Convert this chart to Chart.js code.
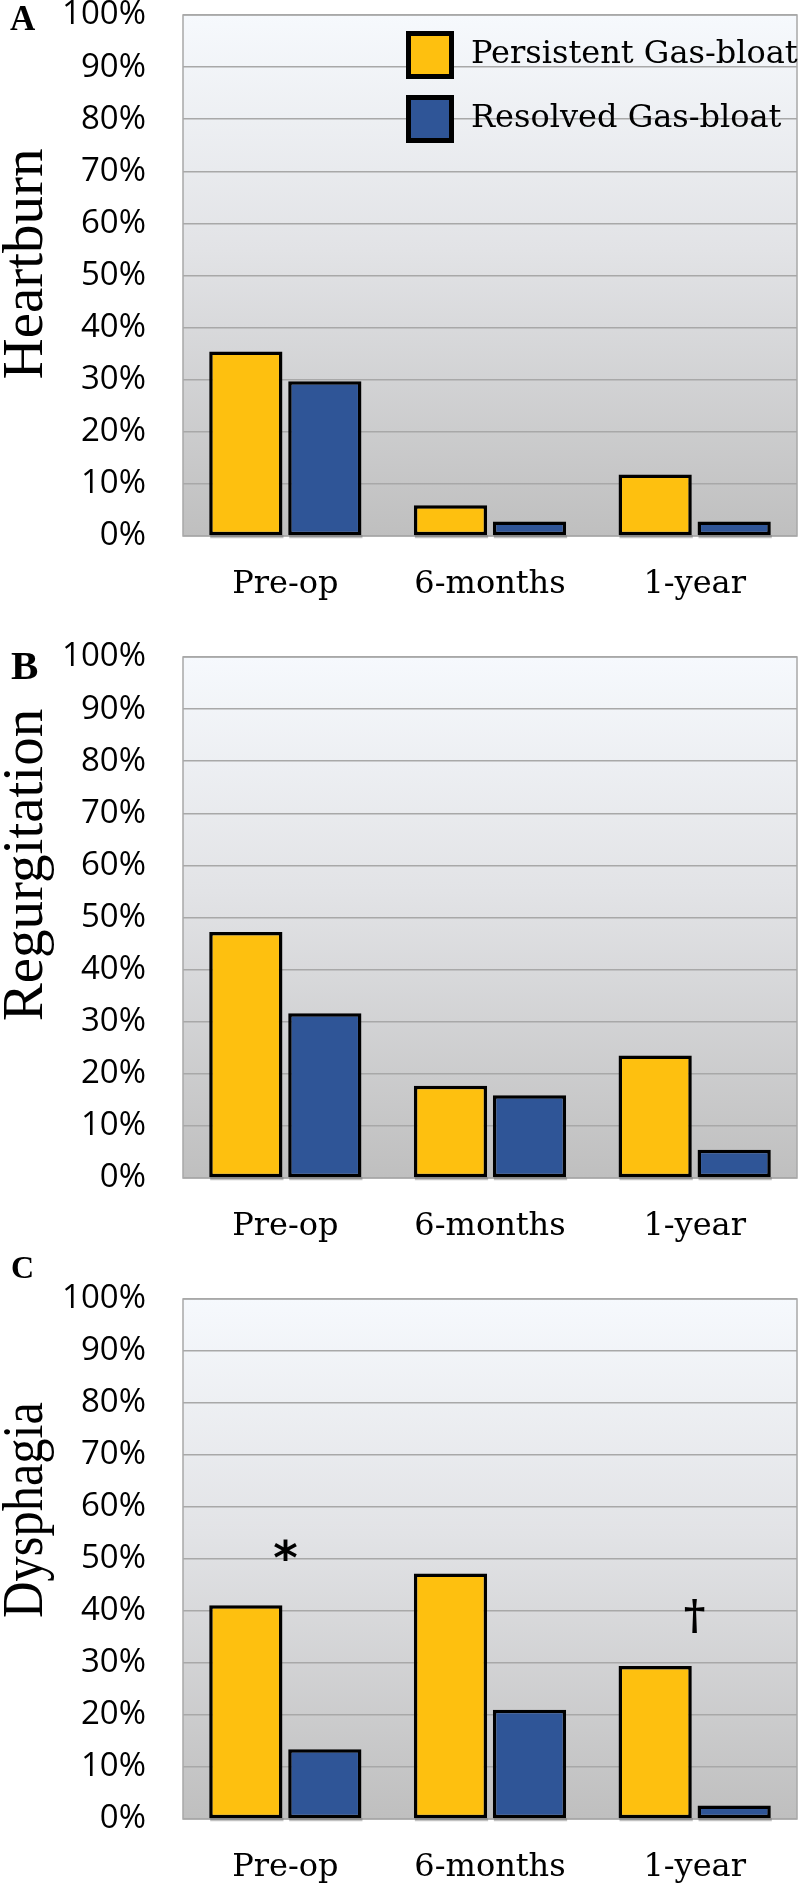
<!DOCTYPE html>
<html><head><meta charset="utf-8">
<script src="https://cdn.jsdelivr.net/npm/chart.js@4.4.1/dist/chart.umd.min.js"></script>
<style>
html,body{margin:0;padding:0;background:#fff;width:800px;height:1889px;overflow:hidden;position:relative}
canvas{position:absolute;left:0}
</style></head><body>
<canvas id="cA" width="800" height="620" style="top:0px"></canvas>
<canvas id="cB" width="800" height="630" style="top:620px"></canvas>
<canvas id="cC" width="800" height="639" style="top:1250px"></canvas>
<script>
// ---- data ----
const categories = ['Pre-op', '6-months', '1-year'];
const seriesNames = ['Persistent Gas-bloat', 'Resolved Gas-bloat'];
const heartburnPersistent = [35.4, 5.9, 11.8];
const heartburnResolved = [29.7, 2.8, 2.8];
const regurgitationPersistent = [47.2, 17.7, 23.5];
const regurgitationResolved = [31.6, 15.9, 5.4];
const dysphagiaPersistent = [41.1, 47.2, 29.4];
const dysphagiaResolved = [13.4, 21.0, 2.6];
const yTickValues = [0, 10, 20, 30, 40, 50, 60, 70, 80, 90, 100];
const yTickLabels = ['0%', '10%', '20%', '30%', '40%', '50%', '60%', '70%', '80%', '90%', '100%'];
const dysphagiaMarkCategories = ['Pre-op', '1-year'];
const dysphagiaMarkValues = [51.8, 39.1];
const dysphagiaMarkSymbols = ['*', '\u2020'];

// ---- styles ----
const YELLOW = '#FEC00F';
const BLUE = '#2F5597';
const GRID = '#a8a8a8';

const panels = [
  {id:'cA', letter:'A', letterSize:35, letterX:10, letterBase:30,
   title:'Heartburn', titleCenter:264, titleLen:232,
   persistent:heartburnPersistent, resolved:heartburnResolved,
   canvasTop:0, canvasH:620, areaTop:15, areaBottom:536, legend:true, marks:false},
  {id:'cB', letter:'B', letterSize:41, letterX:11, letterBase:59,
   title:'Regurgitation', titleCenter:245, titleLen:320,
   persistent:regurgitationPersistent, resolved:regurgitationResolved,
   canvasTop:620, canvasH:630, areaTop:657, areaBottom:1178, legend:false, marks:false},
  {id:'cC', letter:'C', letterSize:32, letterX:11, letterBase:28,
   title:'Dysphagia', titleCenter:260, titleLen:216,
   persistent:dysphagiaPersistent, resolved:dysphagiaResolved,
   canvasTop:1250, canvasH:639, areaTop:1299, areaBottom:1819, legend:false, marks:true}
];

function makeDeco(p) {
  return {
    id: 'deco_' + p.id,
    beforeDraw(chart) {
      const {ctx, chartArea: a} = chart;
      const g = ctx.createLinearGradient(0, a.top, 0, a.bottom);
      g.addColorStop(0, '#f6f9fd');
      g.addColorStop(0.45, '#e2e3e6');
      g.addColorStop(1, '#bfbfbf');
      ctx.save();
      ctx.fillStyle = g;
      ctx.fillRect(a.left, a.top, a.right - a.left, a.bottom - a.top);
      ctx.restore();
    },
    beforeDatasetsDraw(chart) {
      const {ctx, chartArea: a} = chart;
      ctx.save();
      ctx.strokeStyle = GRID;
      ctx.lineWidth = 1.5;
      ctx.strokeRect(a.left, a.top, a.right - a.left, a.bottom - a.top);
      ctx.fillStyle = 'rgba(80,80,80,0.35)';
      chart.data.datasets.forEach((ds, di) => {
        chart.getDatasetMeta(di).data.forEach(el => {
          const {x, width, base} = el.getProps(['x', 'width', 'base'], true);
          ctx.fillRect(x - width / 2 + 1, base, width, 3);
        });
      });
      ctx.restore();
    },
    afterDatasetsDraw(chart) {
      if (!p.marks) return;
      const {ctx, scales} = chart;
      const fams = ['bold 100px "DejaVu Sans"', 'bold 100px "DejaVu Serif"'];
      const targetH = [22, 34];
      ctx.save();
      ctx.fillStyle = '#000';
      dysphagiaMarkSymbols.forEach((sym, i) => {
        const cx = scales.x.getPixelForValue(categories.indexOf(dysphagiaMarkCategories[i]));
        const cy = scales.y.getPixelForValue(dysphagiaMarkValues[i]);
        ctx.font = fams[i];
        let m = ctx.measureText(sym);
        const h = m.actualBoundingBoxAscent + m.actualBoundingBoxDescent;
        const size = 100 * targetH[i] / h;
        ctx.font = fams[i].replace('100px', size.toFixed(2) + 'px');
        m = ctx.measureText(sym);
        ctx.textAlign = 'left';
        ctx.textBaseline = 'alphabetic';
        const x0 = cx - (m.actualBoundingBoxRight - m.actualBoundingBoxLeft) / 2;
        const y0 = cy + (m.actualBoundingBoxAscent - m.actualBoundingBoxDescent) / 2;
        ctx.fillText(sym, x0, y0);
      });
      ctx.restore();
    },
    afterDraw(chart) {
      const {ctx} = chart;
      ctx.save();
      ctx.fillStyle = '#000';
      ctx.font = 'bold ' + p.letterSize + 'px "Liberation Serif"';
      ctx.textAlign = 'left';
      ctx.textBaseline = 'alphabetic';
      ctx.fillText(p.letter, p.letterX, p.letterBase);
      ctx.save();
      ctx.translate(41.5, p.titleCenter);
      ctx.rotate(-Math.PI / 2);
      ctx.font = '57px "Liberation Serif"';
      ctx.textAlign = 'center';
      ctx.textBaseline = 'alphabetic';
      ctx.fillText(p.title, 0, 0, p.titleLen);
      ctx.restore();
      if (p.legend) {
        const colors = [YELLOW, BLUE];
        const boxTops = [31, 95];
        seriesNames.forEach((name, i) => {
          ctx.fillStyle = '#000';
          ctx.fillRect(406, boxTops[i], 48, 48);
          ctx.fillStyle = colors[i];
          ctx.fillRect(411, boxTops[i] + 5, 38, 38);
          ctx.fillStyle = '#000';
          ctx.font = '32px "DejaVu Serif"';
          ctx.textAlign = 'left';
          ctx.textBaseline = 'middle';
          ctx.fillText(name, 471, boxTops[i] + 24, 327);
        });
      }
      ctx.restore();
    }
  };
}

panels.forEach(p => {
  const ctx = document.getElementById(p.id).getContext('2d');
  new Chart(ctx, {
    type: 'bar',
    data: {
      labels: categories,
      datasets: [
        {label: seriesNames[0], data: p.persistent, backgroundColor: YELLOW, borderColor: '#000', borderWidth: 3.5, borderSkipped: false},
        {label: seriesNames[1], data: p.resolved, backgroundColor: BLUE, borderColor: '#000', borderWidth: 3.5, borderSkipped: false}
      ]
    },
    options: {
      responsive: false,
      animation: false,
      devicePixelRatio: 1,
      layout: {padding: {top: p.areaTop - p.canvasTop, right: 3, left: 0, bottom: 0}},
      datasets: {bar: {categoryPercentage: 0.772, barPercentage: 0.927}},
      plugins: {legend: {display: false}, tooltip: {enabled: false}},
      scales: {
        x: {
          grid: {display: false, drawTicks: false},
          border: {display: false},
          ticks: {font: {family: 'DejaVu Serif', size: 32}, color: '#000', padding: 29},
          afterFit: s => { s.height = p.canvasTop + p.canvasH - p.areaBottom; }
        },
        y: {
          min: 0, max: 100,
          afterBuildTicks: s => { s.ticks = yTickValues.map(v => ({value: v})); },
          ticks: {callback: (v, i) => yTickLabels[i], font: {family: 'Open Sans', size: 33}, color: '#000', padding: 37},
          grid: {color: GRID, lineWidth: 1.5, drawTicks: false},
          border: {display: false},
          afterFit: s => { s.width = 183; s.paddingTop = 0; s.paddingBottom = 0; }
        }
      }
    },
    plugins: [makeDeco(p)]
  });
});
</script>
</body></html>
